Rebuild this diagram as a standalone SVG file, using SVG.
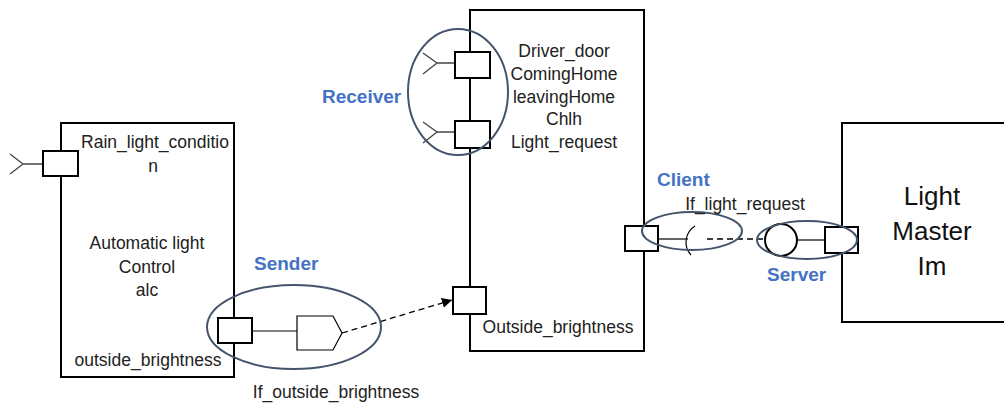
<svg xmlns="http://www.w3.org/2000/svg" width="1004" height="405" viewBox="0 0 1004 405">
<defs>
<style>
.box{fill:none;stroke:#000;stroke-width:2}
.port{fill:#fff;stroke:#000;stroke-width:2}
.thin{fill:none;stroke:#000;stroke-width:1.2}
.req{fill:none;stroke:#444;stroke-width:1.3}
.ell{fill:none;stroke:#44546A;stroke-width:2}
.t{font-family:"Liberation Sans",Arial,sans-serif;font-size:17.5px;fill:#222;text-anchor:middle}
.big{font-family:"Liberation Sans",Arial,sans-serif;font-size:26px;fill:#111;text-anchor:middle}
.lbl{font-family:"Liberation Sans",Arial,sans-serif;font-size:19px;font-weight:bold;fill:#4472C4}
</style>
<marker id="arr" viewBox="0 0 10 10" refX="10" refY="5" markerWidth="10" markerHeight="10" markerUnits="userSpaceOnUse" orient="auto">
<path d="M0,0 L10,5 L0,10 Z" fill="#000"/>
</marker>
</defs>
<rect width="1004" height="405" fill="#fff"/>

<g id="alc">
<rect class="box" x="61" y="123" width="173" height="254"/>
<text class="t" x="155" y="148">Rain_light_conditio</text>
<text class="t" x="153" y="172">n</text>
<text class="t" x="147" y="249">Automatic light</text>
<text class="t" x="147" y="273">Control</text>
<text class="t" x="147" y="296">alc</text>
<text class="t" x="148" y="366">outside_brightness</text>
<g id="alc_rain_port">
<path class="req" d="M10,154 L23,164 L10,174 M23,164 L43,164"/>
<rect class="port" x="43" y="151" width="35" height="25"/>
</g>
<g id="alc_sender_port">
<path class="thin" d="M252,331 L297,331"/>
<rect class="port" x="218" y="318" width="34" height="25"/>
<path class="thin" d="M297,316 L333,316 L342,333 L333,350 L297,350 Z" fill="#fff"/>
</g>
</g>

<g id="receiver_comp">
<rect class="box" x="470" y="10" width="174" height="341"/>
<text class="t" x="564" y="57">Driver_door</text>
<text class="t" x="564" y="80">ComingHome</text>
<text class="t" x="564" y="103">leavingHome</text>
<text class="t" x="564" y="125">Chlh</text>
<text class="t" x="564" y="148">Light_request</text>
<text class="t" x="558" y="333">Outside_brightness</text>
<g id="recv_port1">
<path class="req" d="M423,53 L437,63 L423,74 M437,63 L455,63"/>
<rect class="port" x="455" y="52" width="35" height="26"/>
</g>
<g id="recv_port2">
<path class="req" d="M423,122 L437,132 L423,143 M437,132 L455,132"/>
<rect class="port" x="455" y="121" width="35" height="27"/>
</g>
<rect id="recv_port3" class="port" x="453" y="287" width="33" height="27"/>
<g id="client_port">
<path class="thin" d="M658,239 L688,239"/>
<path class="thin" d="M695,226 A19 19 0 0 0 691,255"/>
<rect class="port" x="625" y="226" width="33" height="25"/>
</g>
</g>

<g id="lightmaster">
<rect class="box" x="842" y="123" width="170" height="199"/>
<text class="big" x="932" y="205">Light</text>
<text class="big" x="932" y="240">Master</text>
<text class="big" x="932" y="275">Im</text>
<g id="server_port">
<path class="thin" d="M798,240 L825,240"/>
<circle cx="781" cy="240" r="16" fill="#fff" stroke="#000" stroke-width="2"/>
<rect class="port" x="825" y="227" width="33" height="26"/>
</g>
</g>

<g id="connectors">
<path d="M342,333 L452,300" fill="none" stroke="#000" stroke-width="1.3" stroke-dasharray="6,4" marker-end="url(#arr)"/>
<path d="M707,239 L765,239" fill="none" stroke="#000" stroke-width="1.3" stroke-dasharray="6,4"/>
</g>

<g id="annotations">
<ellipse class="ell" cx="458" cy="92" rx="50" ry="63"/>
<ellipse class="ell" cx="294" cy="327" rx="87" ry="42"/>
<ellipse class="ell" cx="692" cy="231" rx="50" ry="19"/>
<ellipse class="ell" cx="807" cy="240" rx="50" ry="19"/>
<text class="lbl" x="322" y="103">Receiver</text>
<text class="lbl" x="254" y="270">Sender</text>
<text class="lbl" x="657" y="186">Client</text>
<text class="lbl" x="767" y="281">Server</text>
<text class="t" x="336" y="398">If_outside_brightness</text>
<text class="t" x="745" y="210">If_light_request</text>
</g>
</svg>
